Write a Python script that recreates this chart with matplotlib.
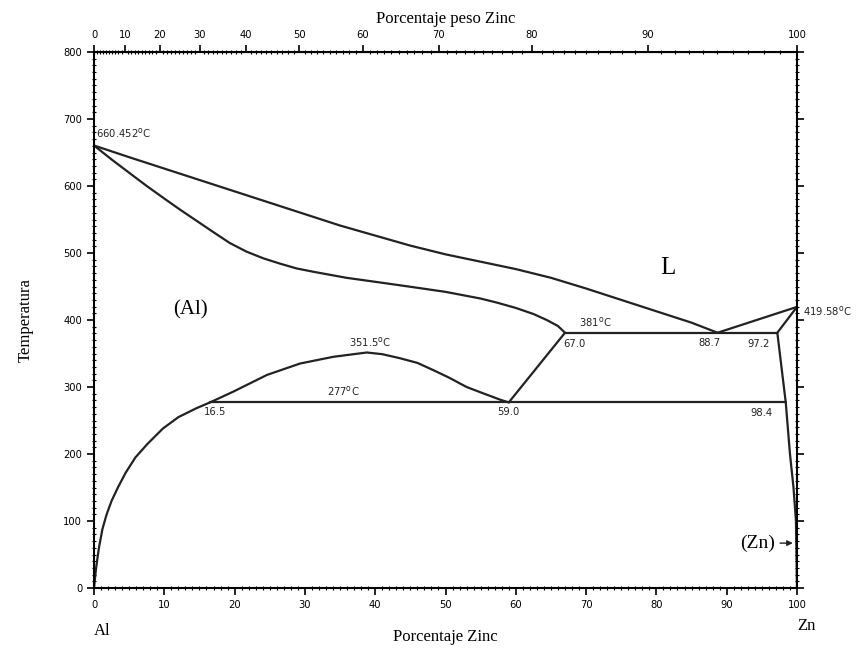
import numpy as np
import matplotlib
matplotlib.use("Agg")
import matplotlib.pyplot as plt
from matplotlib.ticker import MultipleLocator, FixedLocator

M_AL = 26.98
M_ZN = 65.38

# curves (at% Zn, temperature C)
liq_x = [0, 5, 10, 15, 20, 25, 30, 35, 40, 45, 50, 55, 60, 65, 70, 75, 80, 85, 88.7]
liq_t = [660.452, 643, 626, 609, 592, 575, 558, 541, 526, 511, 498, 487, 476, 463,
         447, 430, 413, 396, 381]
liq_zn_x = [88.7, 100]
liq_zn_t = [381, 419.58]

sol_x = [0, 2.7, 5.1, 7.5, 9.9, 12.2, 14.6, 17.0, 19.3, 21.7, 24.1, 26.5, 28.8,
         31.2, 35.9, 40.7, 45.4, 50, 55, 57.3, 60, 62.5, 64.4, 66, 67.0]
sol_t = [660.452, 638, 619, 600, 582, 565, 548, 531, 515, 502, 492, 484, 477,
         472, 463, 456, 449, 442, 432, 426, 418, 409, 400, 391, 381]

solvus_al_x = [0, 0.3, 0.7, 1.2, 1.8, 2.5, 3.4, 4.5, 5.9, 7.6, 9.8, 12.0, 14.5, 16.5]
solvus_al_t = [0, 30, 60, 88, 110, 130, 150, 172, 195, 215, 238, 255, 268, 277]

gap_x = [16.5, 19.8, 24.6, 29.3, 34.0, 38.8, 41.0, 43.5, 46.0, 48.3, 50.5, 53.0,
         55.5, 57.8, 59.0]
gap_t = [277, 293, 318, 335, 345, 351.5, 349, 343, 336, 325, 314, 300, 290, 281, 277]

mono_x = [59.0, 67.0]
mono_t = [277, 381]

eut_x = [67.0, 97.2]
eut_t = [381, 381]
monot_x = [16.5, 98.4]
monot_t = [277, 277]

zn_sol_x = [97.2, 100]
zn_sol_t = [381, 419.58]
zn_solvus_x = [97.2, 98.4, 99.0, 99.5, 99.85, 100]
zn_solvus_t = [381, 277, 200, 150, 100, 0]

top_ticks = [0, 10, 20, 30, 40, 50, 60, 70, 80, 90, 100]


def at_to_wt(a):
    a = np.asarray(a, dtype=float)
    with np.errstate(divide="ignore", invalid="ignore"):
        return 100 * a * M_ZN / (a * M_ZN + (100 - a) * M_AL)


def wt_to_at(w):
    w = np.asarray(w, dtype=float)
    with np.errstate(divide="ignore", invalid="ignore"):
        return 100 * (w / M_ZN) / (w / M_ZN + (100 - w) / M_AL)


serif = "Liberation Serif"
tickfont = dict(family="DejaVu Sans", stretch="condensed", size=8)

fig = plt.figure(figsize=(8.61, 6.52), dpi=100)
ax = fig.add_axes([94 / 861, 64 / 652, 703 / 861, 536 / 652])

lw = 1.6
for xs, ts in [(liq_x, liq_t), (liq_zn_x, liq_zn_t), (sol_x, sol_t),
               (solvus_al_x, solvus_al_t), (gap_x, gap_t), (mono_x, mono_t),
               (eut_x, eut_t), (monot_x, monot_t), (zn_sol_x, zn_sol_t),
               (zn_solvus_x, zn_solvus_t)]:
    ax.plot(xs, ts, color="#222222", lw=lw, solid_capstyle="round",
            solid_joinstyle="round")

ax.set_xlim(0, 100)
ax.set_ylim(0, 800)
ax.xaxis.set_major_locator(MultipleLocator(10))
ax.xaxis.set_minor_locator(MultipleLocator(1))
ax.yaxis.set_major_locator(MultipleLocator(100))
ax.yaxis.set_minor_locator(MultipleLocator(10))
ax.tick_params(which="major", direction="out", length=5, width=1.2, right=True)
ax.tick_params(which="minor", direction="inout", length=3, width=0.8, right=True)
for lab in ax.get_xticklabels() + ax.get_yticklabels():
    lab.set_fontfamily(tickfont["family"])
    lab.set_fontstretch(tickfont["stretch"])
    lab.set_fontsize(tickfont["size"])
for sp in ax.spines.values():
    sp.set_linewidth(1.5)

# top axis in weight percent
top = ax.secondary_xaxis("top", functions=(at_to_wt, wt_to_at))
top.xaxis.set_major_locator(FixedLocator(top_ticks))
top.xaxis.set_minor_locator(FixedLocator(range(0, 101)))
top.tick_params(which="major", direction="out", length=5, width=1.2)
top.tick_params(which="minor", direction="inout", length=3, width=0.8)
for lab in top.get_xticklabels():
    lab.set_fontfamily(tickfont["family"])
    lab.set_fontstretch(tickfont["stretch"])
    lab.set_fontsize(tickfont["size"])
top.set_xlabel("Porcentaje peso Zinc", fontfamily=serif, fontsize=12, labelpad=5)

ax.set_xlabel("Porcentaje Zinc", fontfamily=serif, fontsize=12, labelpad=14)
ax.set_ylabel("Temperatura", fontfamily=serif, fontsize=12, labelpad=21)

small = dict(fontsize=8, family="DejaVu Sans", stretch="condensed", color="#222222")
ax.text(0.3, 668, "660.452$^\\mathrm{o}$C", ha="left", va="bottom", **small)
ax.text(39.3, 357, "351.5$^\\mathrm{o}$C", ha="center", va="bottom", **small)
ax.text(35.4, 283, "277$^\\mathrm{o}$C", ha="center", va="bottom", **small)
ax.text(71.3, 386, "381$^\\mathrm{o}$C", ha="center", va="bottom", **small)
ax.text(17.2, 262, "16.5", ha="center", va="center", **small)
ax.text(59.0, 262, "59.0", ha="center", va="center", **small)
ax.text(68.4, 364, "67.0", ha="center", va="center", **small)
ax.text(87.6, 366, "88.7", ha="center", va="center", **small)
ax.text(94.5, 364, "97.2", ha="center", va="center", **small)
ax.text(95.0, 261, "98.4", ha="center", va="center", **small)
ax.text(100.8, 414, "419.58$^\\mathrm{o}$C", ha="left", va="center", clip_on=False, **small)

ax.text(81.6, 477, "L", fontfamily=serif, fontsize=18, ha="center", va="center")
ax.text(13.7, 415, "(Al)", fontfamily=serif, fontsize=15, ha="center", va="center")
ax.annotate("(Zn)", xy=(99.8, 67), xytext=(96.8, 67), fontfamily=serif, fontsize=14,
            ha="right", va="center",
            arrowprops=dict(arrowstyle="-|>", color="#222222", lw=1, mutation_scale=8))

ax.text(0.0, -0.08, "Al", transform=ax.transAxes, fontfamily=serif, fontsize=12,
        ha="left", va="center")
ax.text(1.0, -0.07, "Zn", transform=ax.transAxes, fontfamily=serif, fontsize=12,
        ha="left", va="center")

fig.savefig("out.png", dpi=100)
